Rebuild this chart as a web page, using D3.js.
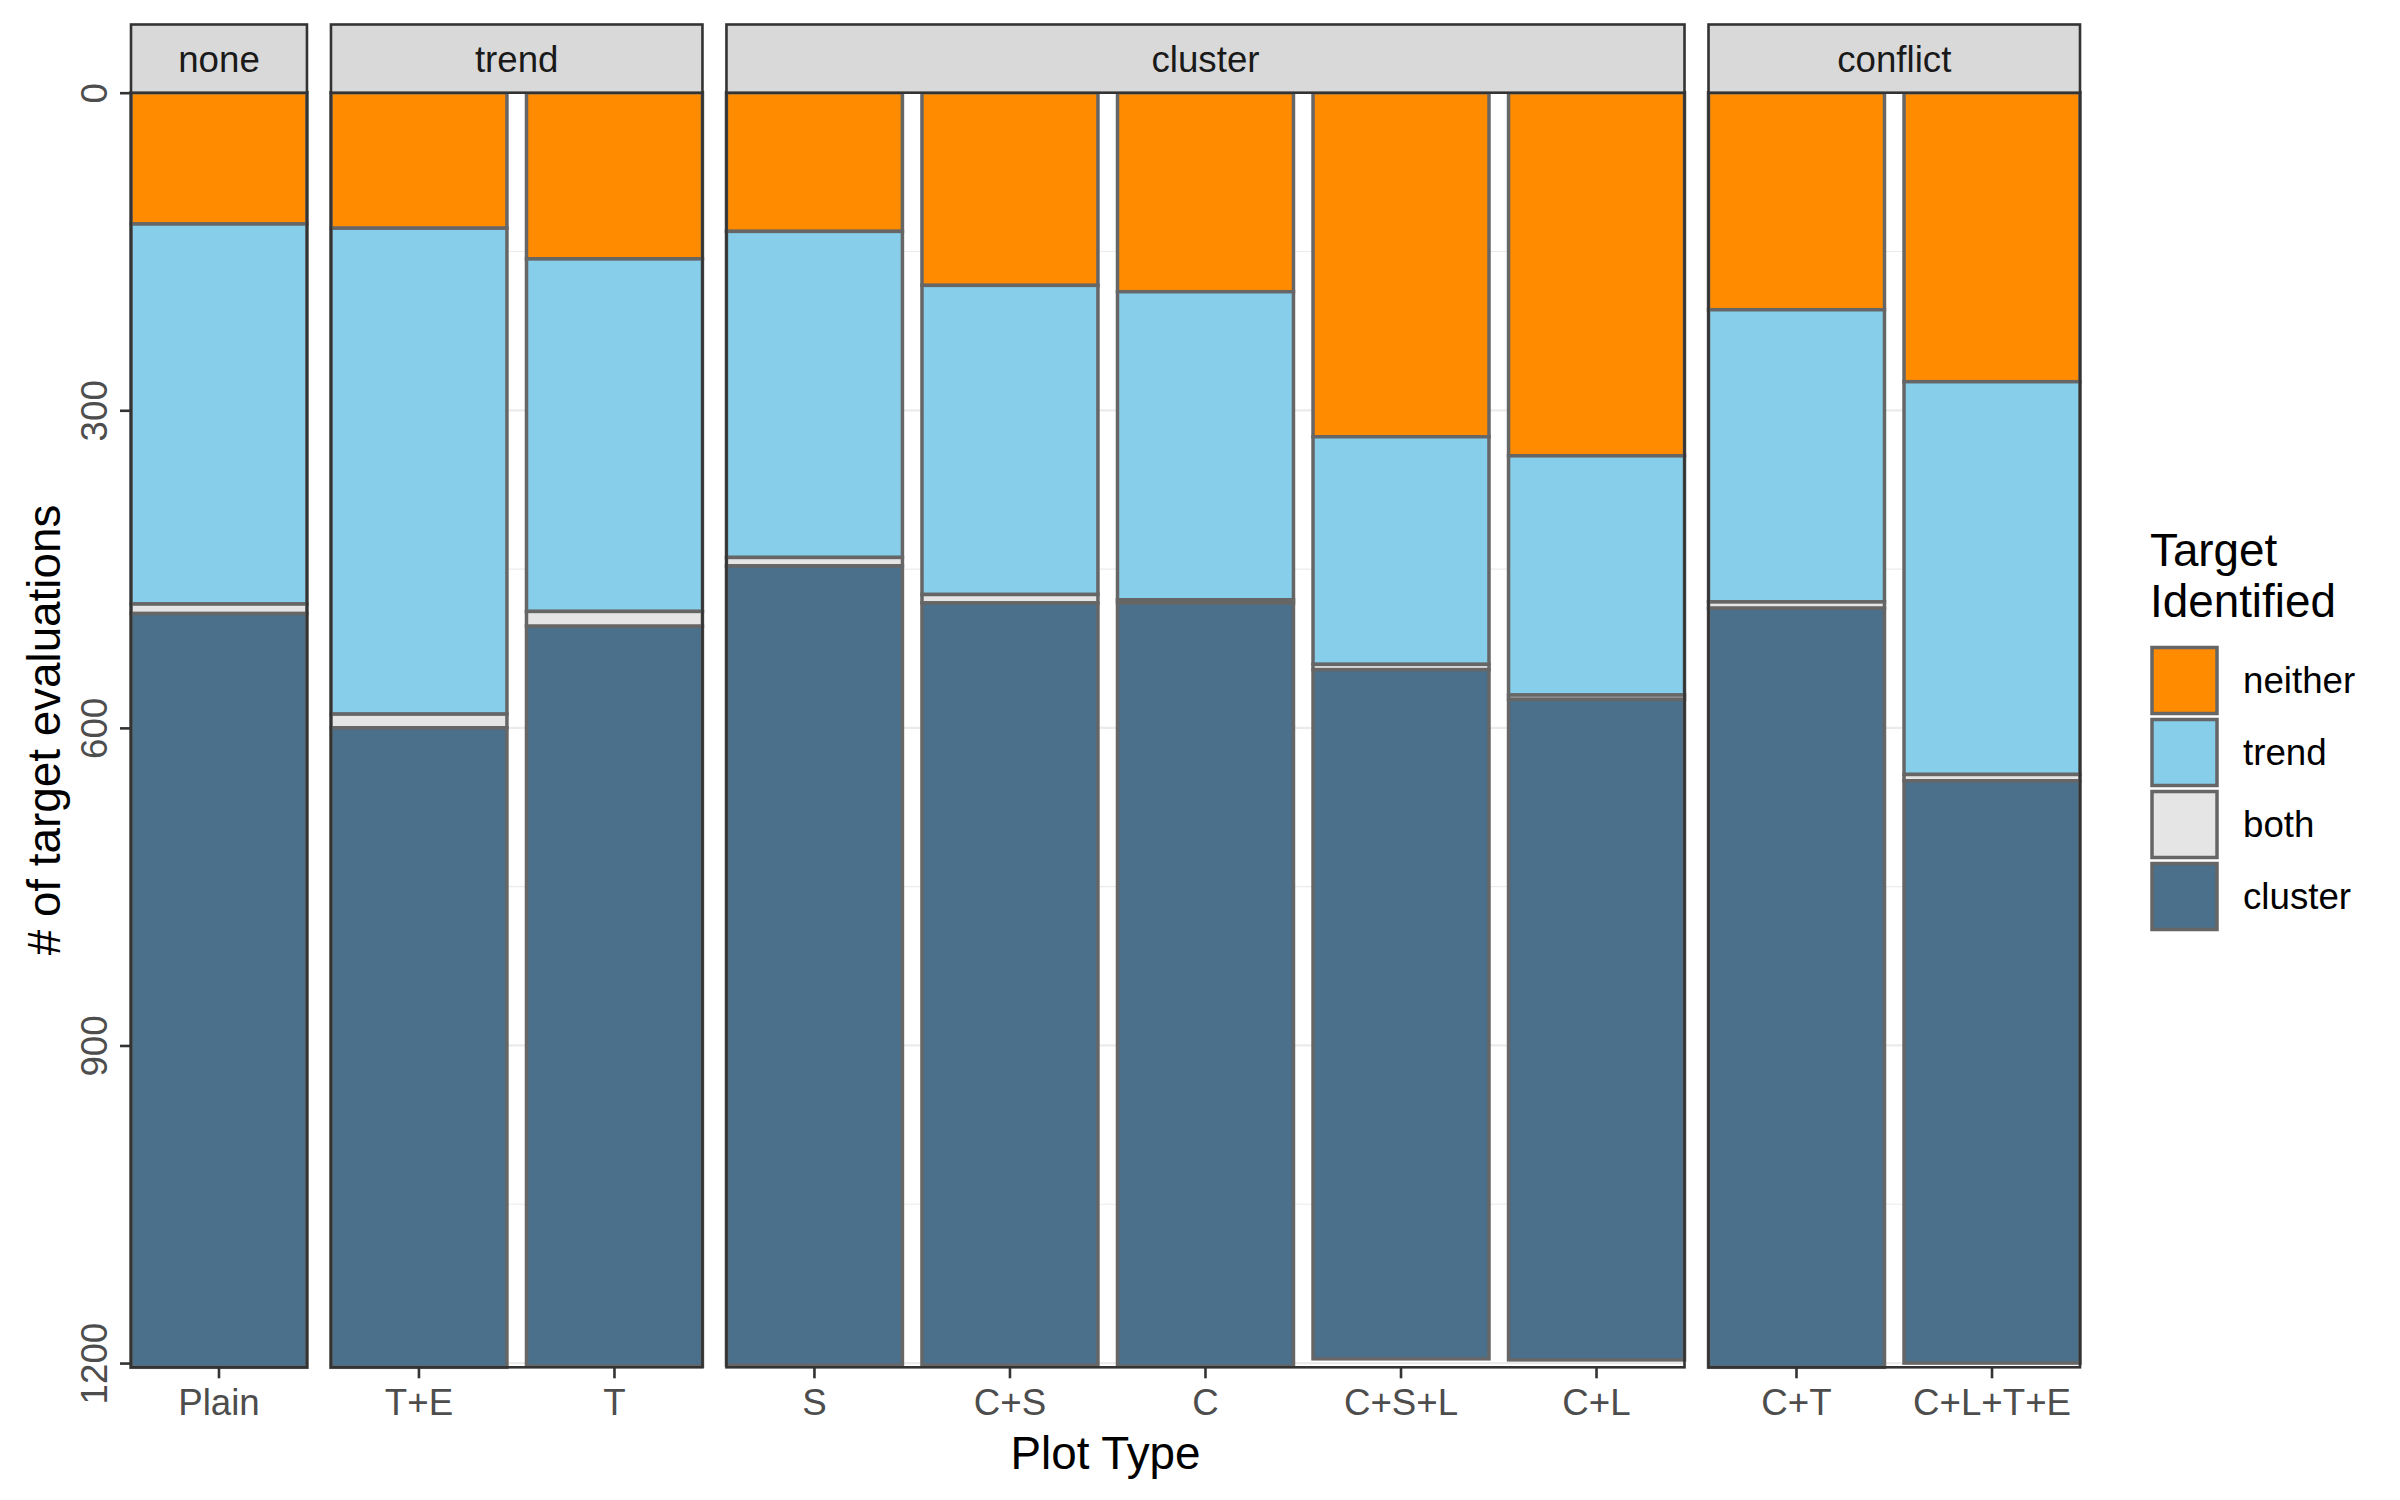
<!DOCTYPE html>
<html>
<head>
<meta charset="utf-8">
<script src="https://cdn.jsdelivr.net/npm/d3@7"></script>
<style>
  html, body { margin: 0; padding: 0; background: #ffffff; }
  svg { display: block; }
</style>
</head>
<body>
<svg id="chart" width="2400" height="1500"></svg>
<script>
// ---------- data ----------
const plotTypes = ["Plain", "T+E", "T", "S", "C+S", "C", "C+S+L", "C+L", "C+T", "C+L+T+E"];
const facetOf   = ["none", "trend", "trend", "cluster", "cluster", "cluster", "cluster", "cluster", "conflict", "conflict"];
const facets    = ["none", "trend", "cluster", "conflict"];
const neither   = [124, 128, 157, 131, 182, 188, 325, 343, 205, 273];
const trend     = [359, 459, 333, 308, 292, 291, 215, 226, 276, 371];
const both      = [9, 13, 14, 8, 8, 3, 5, 4, 6, 6];
const cluster   = [712, 604, 699, 755, 720, 721, 651, 624, 717, 550];
const seriesKeys = ["neither", "trend", "both", "cluster"];
const seriesColors = ["#FF8C00", "#87CEEB", "#E5E5E5", "#4A708B"];
const yTicks = [0, 300, 600, 900, 1200];
const yMinor = [150, 450, 750, 1050];

// ---------- layout ----------
const FONT = "'Liberation Sans', Arial, Helvetica, sans-serif";
const plotLeft = 131, plotRight = 2080, panelGap = 24;
const plotTop = 92.7, plotBottom = 1367.3, stripTop = 24.5;

const rows = plotTypes.map((p, i) => ({
  type: p, facet: facetOf[i],
  neither: neither[i], trend: trend[i], both: both[i], cluster: cluster[i]
}));

const svg = d3.select("#chart");
svg.append("rect").attr("width", 2400).attr("height", 1500).attr("fill", "#ffffff");

const totals = rows.map(r => seriesKeys.reduce((s, k) => s + r[k], 0));
const y = d3.scaleLinear().domain([0, d3.max(totals)]).range([plotTop, plotBottom]);

const counts = facets.map(f => rows.filter(r => r.facet === f).length);
const unit = (plotRight - plotLeft - panelGap * (facets.length - 1)) / d3.sum(counts.map(n => n - 0.1));
let cursor = plotLeft;
const panels = facets.map((f, i) => {
  const w = (counts[i] - 0.1) * unit;
  const p = { facet: f, x0: cursor, x1: cursor + w, rows: rows.filter(r => r.facet === f) };
  cursor += w + panelGap;
  p.x = d3.scaleBand().domain(p.rows.map(r => r.type)).range([p.x0, p.x1])
    .paddingInner(counts[i] > 1 ? 0.1 : 0).paddingOuter(0);
  return p;
});

const color = d3.scaleOrdinal().domain(seriesKeys).range(seriesColors);
const stack = d3.stack().keys(seriesKeys);

panels.forEach(p => {
  const g = svg.append("g");
  // grid
  yMinor.forEach(v => {
    g.append("line").attr("x1", p.x0).attr("x2", p.x1).attr("y1", y(v)).attr("y2", y(v))
      .attr("stroke", "#EBEBEB").attr("stroke-width", 1.2);
  });
  yTicks.forEach(v => {
    g.append("line").attr("x1", p.x0).attr("x2", p.x1).attr("y1", y(v)).attr("y2", y(v))
      .attr("stroke", "#EBEBEB").attr("stroke-width", 2.3);
  });
  // bars
  const stacked = stack(p.rows);
  stacked.forEach(layer => {
    g.selectAll(null).data(layer).enter().append("rect")
      .attr("x", d => p.x(d.data.type))
      .attr("width", p.x.bandwidth())
      .attr("y", d => y(d[0]))
      .attr("height", d => y(d[1]) - y(d[0]))
      .attr("fill", color(layer.key))
      .attr("stroke", "#666666")
      .attr("stroke-width", 3.5);
  });
  // panel border
  g.append("rect").attr("x", p.x0).attr("y", plotTop).attr("width", p.x1 - p.x0).attr("height", plotBottom - plotTop)
    .attr("fill", "none").attr("stroke", "#333333").attr("stroke-width", 2.6);
  // strip
  g.append("rect").attr("x", p.x0).attr("y", stripTop).attr("width", p.x1 - p.x0).attr("height", plotTop - stripTop)
    .attr("fill", "#D9D9D9").attr("stroke", "#333333").attr("stroke-width", 2.6);
  g.append("text").attr("x", (p.x0 + p.x1) / 2).attr("y", (stripTop + plotTop) / 2 + 13.5)
    .attr("text-anchor", "middle").attr("font-family", FONT).attr("font-size", 36.7)
    .attr("fill", "#1A1A1A").text(p.facet);
  // x axis
  const ax = svg.append("g").attr("transform", `translate(0,${plotBottom})`)
    .call(d3.axisBottom(p.x).tickSize(11).tickPadding(11));
  ax.select(".domain").remove();
  ax.selectAll(".tick line").attr("stroke", "#333333").attr("stroke-width", 2.6);
  ax.selectAll(".tick text").attr("font-family", FONT).attr("font-size", 36.7).attr("fill", "#4D4D4D");
});

// y axis
const yAx = svg.append("g").attr("transform", `translate(${plotLeft},0)`)
  .call(d3.axisLeft(y).tickValues(yTicks).tickSize(11).tickFormat(d3.format("d")));
yAx.select(".domain").remove();
yAx.selectAll(".tick line").attr("stroke", "#333333").attr("stroke-width", 2.6);
yAx.selectAll(".tick text")
  .attr("font-family", FONT).attr("font-size", 36.7).attr("fill", "#4D4D4D")
  .attr("x", null).attr("dy", null)
  .attr("text-anchor", "middle")
  .attr("transform", "translate(-24,0) rotate(-90)");

// axis titles
svg.append("text").attr("transform", `translate(60,${(plotTop + plotBottom) / 2}) rotate(-90)`)
  .attr("text-anchor", "middle").attr("font-family", FONT).attr("font-size", 45.8).attr("fill", "#000000")
  .text("# of target evaluations");
svg.append("text").attr("x", (plotLeft + plotRight) / 2).attr("y", 1469)
  .attr("text-anchor", "middle").attr("font-family", FONT).attr("font-size", 45.8).attr("fill", "#000000")
  .text("Plot Type");

// legend
const lg = svg.append("g");
lg.append("text").attr("x", 2150).attr("y", 566).attr("font-family", FONT).attr("font-size", 45.8).text("Target");
lg.append("text").attr("x", 2150).attr("y", 617).attr("font-family", FONT).attr("font-size", 45.8).text("Identified");
seriesKeys.forEach((k, i) => {
  const ky = 646 + i * 72;
  lg.append("rect").attr("x", 2152).attr("y", ky + 1.5).attr("width", 65).attr("height", 66)
    .attr("fill", color(k)).attr("stroke", "#666666").attr("stroke-width", 3.5);
  lg.append("text").attr("x", 2243).attr("y", ky + 34.5).attr("dy", "0.35em")
    .attr("font-family", FONT).attr("font-size", 36.7).attr("fill", "#000000").text(k);
});
</script>
</body>
</html>
